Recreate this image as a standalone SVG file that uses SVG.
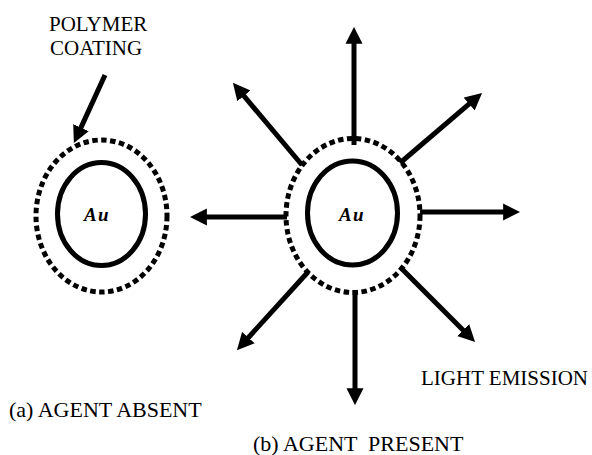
<svg xmlns="http://www.w3.org/2000/svg" width="592" height="455" viewBox="0 0 592 455">
<defs>
<style>
.lbl{font-family:"Liberation Serif","Times New Roman",serif;font-size:21px;fill:#000;}
.au{font-family:"Liberation Serif","Times New Roman",serif;font-size:19px;font-weight:bold;font-style:italic;fill:#000;letter-spacing:1.5px;}
.core{fill:none;stroke:#000;stroke-width:5;}
.coat{fill:none;stroke:#000;stroke-width:5;stroke-dasharray:5.5 3.5;}
.arr{fill:none;stroke:#000;stroke-width:5;marker-end:url(#head);}
</style>
<marker id="head" viewBox="0 0 10 10" refX="0.5" refY="5" markerWidth="3.4" markerHeight="3.6" orient="auto" markerUnits="strokeWidth">
<path d="M0,0 L10,5 L0,10 z" fill="#000"/>
</marker>
</defs>
<rect width="592" height="455" fill="#fff"/>
<g id="label-polymer">
<text class="lbl" x="49" y="31">POLYMER</text>
<text class="lbl" x="50" y="55">COATING</text>
</g>
<g id="particle-a">
<ellipse class="coat" cx="101.5" cy="216" rx="65.5" ry="76"/>
<ellipse class="core" cx="101.5" cy="214" rx="44" ry="51.5"/>
<text class="au" x="97" y="221" text-anchor="middle">Au</text>
</g>
<g id="particle-b">
<ellipse class="coat" cx="353" cy="215.5" rx="67" ry="77"/>
<ellipse class="core" cx="352.5" cy="213" rx="45" ry="52"/>
<text class="au" x="352" y="221" text-anchor="middle">Au</text>
</g>
<g id="connectors">
<line class="arr" x1="105" y1="75" x2="80.6" y2="128.4"/>
<line class="arr" x1="354" y1="145" x2="354" y2="43"/>
<line class="arr" x1="302" y1="165" x2="243.3" y2="95.2"/>
<line class="arr" x1="400" y1="163" x2="469.8" y2="103.4"/>
<line class="arr" x1="287" y1="217" x2="206" y2="217"/>
<line class="arr" x1="420" y1="212" x2="504" y2="212"/>
<line class="arr" x1="308" y1="272" x2="247.8" y2="338.2"/>
<line class="arr" x1="355" y1="290" x2="355" y2="389"/>
<line class="arr" x1="400" y1="267" x2="463.7" y2="330.7"/>
</g>
<g id="captions">
<text class="lbl" x="421" y="385">LIGHT EMISSION</text>
<text class="lbl" x="9" y="417" style="font-size:22px">(a) AGENT ABSENT</text>
<text class="lbl" x="253" y="451" style="font-size:22px" xml:space="preserve">(b) AGENT  PRESENT</text>
</g>
</svg>
